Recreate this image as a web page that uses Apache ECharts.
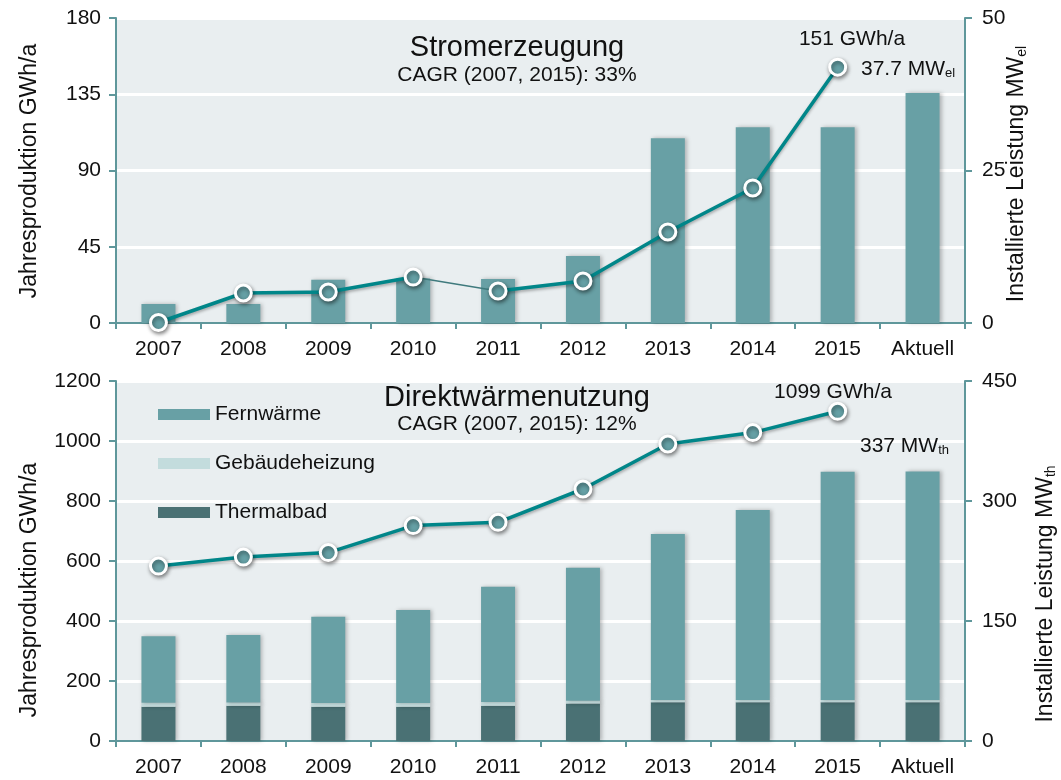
<!DOCTYPE html>
<html><head><meta charset="utf-8">
<script src="https://cdn.jsdelivr.net/npm/echarts@6/dist/echarts.min.js"></script>
<style>html,body{margin:0;padding:0;background:#fff}#c{width:1061px;height:780px}</style>
</head><body><div id="c"></div>
<script>
const categories = ['2007','2008','2009','2010','2011','2012','2013','2014','2015','Aktuell'];
// Stromerzeugung
const stromLeistungMW = [3.1, 3.1, 7.1, 7.3, 7.2, 11.0, 30.3, 32.1, 32.1, 37.7];
const stromProduktionGWh = [0.3, 17.7, 18.3, 27.1, 18.9, 24.8, 53.7, 79.7, 151, null];
// Direktwärmenutzung
const thermalbadMW = [42.9, 44.0, 42.9, 42.9, 44.0, 47.0, 48.3, 48.3, 48.3, 48.3];
const gebaeudeMW = [5.0, 4.0, 4.6, 4.6, 4.6, 3.3, 3.0, 3.0, 3.0, 3.0];
const fernwaermeMW = [83.1, 84.5, 107.9, 116.3, 144.3, 166.4, 207.5, 237.5, 285.3, 285.7];
const waermeProduktionGWh = [583, 613, 628, 718, 729, 840, 990, 1028, 1099, null];

const FONT = 'Liberation Sans, Arial, sans-serif';
const AX = '#5f979b';
const C_FERN = '#68a0a5', C_GEB = '#c3dcdd', C_THERM = '#4a7174';
const C_LINE = '#008689';

const chart = echarts.init(document.getElementById('c'));

function xAxis(gi) {
  return {
    type: 'category', gridIndex: gi, data: categories,
    axisLine: {lineStyle: {color: AX, width: 2}},
    axisTick: {show: true, length: 6, lineStyle: {color: AX, width: 2}},
    axisLabel: {color: '#111', fontSize: 21, fontFamily: FONT, margin: 16}
  };
}
function yAxis(gi, pos, max, interval, split, margin) {
  return {
    type: 'value', gridIndex: gi, position: pos, min: 0, max: max, interval: interval,
    axisLine: {show: true, lineStyle: {color: AX, width: 2}},
    axisTick: {show: true, length: 7, lineStyle: {color: AX, width: 2}},
    axisLabel: {color: '#111', fontSize: 21, fontFamily: FONT, margin: margin, formatter: v => String(v)},
    splitLine: {show: split, lineStyle: {color: '#ffffff', width: 3}}
  };
}
const symStyle = {color: '#65a0a5', borderColor: '#ffffff', borderWidth: 3,
  shadowBlur: 4, shadowColor: 'rgba(0,0,0,0.45)', shadowOffsetX: 1, shadowOffsetY: 2};
const lineSty = {color: C_LINE, width: 3.5, shadowBlur: 3, shadowColor: 'rgba(0,0,0,0.3)', shadowOffsetY: 2};
const barShadow = {shadowBlur: 4, shadowColor: 'rgba(0,0,0,0.25)', shadowOffsetX: 2};

const partA = stromProduktionGWh.map((v, i) => i <= 3 ? v : null);
const partB = stromProduktionGWh.map((v, i) => i >= 4 ? v : null);
const partC = stromProduktionGWh.map((v, i) => (i === 3 || i === 4) ? v : null);

const subRich = (main, sub, size) => ({
  text: '{m|' + main + '}{s|' + sub + '}', fill: '#111',
  rich: {m: {font: size + 'px ' + FONT, fill: '#111'},
         s: {font: Math.round(size * 0.6) + 'px ' + FONT, fill: '#111', verticalAlign: 'bottom', padding: [Math.round(size * 0.45), 0, 0, 0]}}
});
function txt(x, y, text, size, align) {
  return {type: 'text', x: x, y: y, z: 100,
    style: {text: text, font: size + 'px ' + FONT, fill: '#111', align: align || 'center', verticalAlign: 'top'}};
}
function vname(x, y, main, sub) {
  const st = sub ? subRich(main, sub, 23) : {text: main, font: '23px ' + FONT, fill: '#111'};
  st.align = 'center'; st.verticalAlign = 'middle';
  return {type: 'text', x: x, y: y, rotation: Math.PI / 2, z: 100, style: st};
}

const option = {
  animation: false,
  backgroundColor: '#ffffff',
  textStyle: {fontFamily: FONT},
  grid: [
    {left: 116, right: 96, top: 18, height: 305, show: true, backgroundColor: '#e9eef0', borderColor: AX, borderWidth: 2},
    {left: 116, right: 96, top: 381, height: 360, show: true, backgroundColor: '#e9eef0', borderColor: AX, borderWidth: 2}
  ],
  legend: {
    left: 158, top: 404, padding: 0, orient: 'vertical', itemWidth: 52, itemHeight: 11, itemGap: 28,
    data: ['Fernwärme', 'Gebäudeheizung', 'Thermalbad'],
    textStyle: {fontSize: 21, fontFamily: FONT, color: '#111'},
    icon: 'rect', selectedMode: false
  },
  xAxis: [xAxis(0), xAxis(1)],
  yAxis: [
    yAxis(0, 'left', 180, 45, true, 15),
    yAxis(0, 'right', 50, 25, false, 17),
    yAxis(1, 'left', 1200, 200, true, 15),
    yAxis(1, 'right', 450, 150, false, 17)
  ],
  series: [
    {type: 'bar', name: 'Strom', xAxisIndex: 0, yAxisIndex: 1, data: stromLeistungMW, barWidth: 34,
      itemStyle: Object.assign({color: C_FERN}, barShadow), z: 2},
    {type: 'line', xAxisIndex: 0, yAxisIndex: 0, data: partC, symbol: 'none',
      lineStyle: {color: '#3f7a7d', width: 1.6}, z: 3},
    {type: 'line', xAxisIndex: 0, yAxisIndex: 0, data: partA, symbol: 'circle', symbolSize: 16,
      lineStyle: lineSty, itemStyle: symStyle, z: 4},
    {type: 'line', xAxisIndex: 0, yAxisIndex: 0, data: partB, symbol: 'circle', symbolSize: 16,
      lineStyle: lineSty, itemStyle: symStyle, z: 4},
    {type: 'bar', name: 'Thermalbad', stack: 'w', xAxisIndex: 1, yAxisIndex: 3, data: thermalbadMW, barWidth: 34,
      itemStyle: Object.assign({color: C_THERM}, barShadow), z: 2},
    {type: 'bar', name: 'Gebäudeheizung', stack: 'w', xAxisIndex: 1, yAxisIndex: 3, data: gebaeudeMW, barWidth: 34,
      itemStyle: Object.assign({color: C_GEB}, barShadow), z: 2},
    {type: 'bar', name: 'Fernwärme', stack: 'w', xAxisIndex: 1, yAxisIndex: 3, data: fernwaermeMW, barWidth: 34,
      itemStyle: Object.assign({color: C_FERN}, barShadow), z: 2},
    {type: 'line', xAxisIndex: 1, yAxisIndex: 2, data: waermeProduktionGWh, symbol: 'circle', symbolSize: 16,
      lineStyle: lineSty, itemStyle: symStyle, z: 4}
  ],
  graphic: [
    txt(517, 33, 'Stromerzeugung', 29),
    txt(517, 65, 'CAGR (2007, 2015): 33%', 21),
    txt(852, 29, '151 GWh/a', 21),
    Object.assign({type: 'text', x: 861, y: 58, z: 100, style: Object.assign(subRich('37.7 MW', 'el', 21), {verticalAlign: 'top'})}),
    txt(517, 383, 'Direktwärmenutzung', 29),
    txt(517, 414, 'CAGR (2007, 2015): 12%', 21),
    txt(833, 382, '1099 GWh/a', 21),
    Object.assign({type: 'text', x: 860, y: 435, z: 100, style: Object.assign(subRich('337 MW', 'th', 21), {verticalAlign: 'top'})}),
    vname(30, 171, 'Jahresproduktion GWh/a'),
    vname(30, 590, 'Jahresproduktion GWh/a'),
    vname(1017, 174, 'Installierte Leistung MW', 'el'),
    vname(1046, 594, 'Installierte Leistung MW', 'th')
  ]
};
chart.setOption(option);
</script></body></html>
